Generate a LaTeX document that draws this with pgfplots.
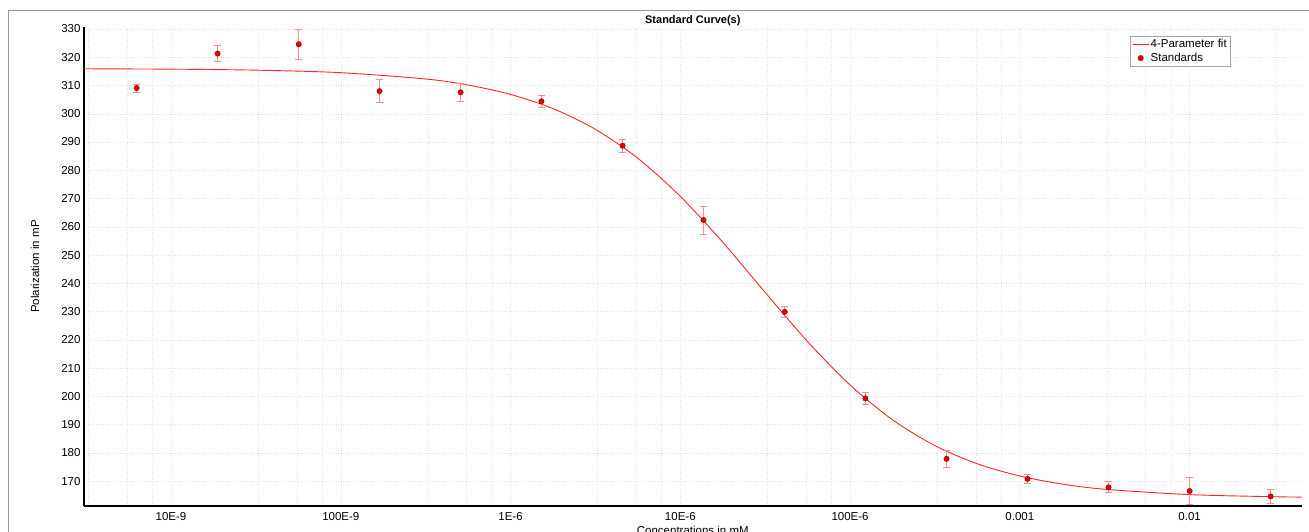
\documentclass[border=0pt]{standalone}
\usepackage{pgfplots}
\pgfplotsset{compat=1.18}
\usepackage{fontspec}
\setmainfont{Liberation Sans}

\begin{document}
\begin{tikzpicture}[x=1pt,y=1pt]
  \useasboundingbox (0,0) rectangle (1309,531);
  % outer frame of the chart panel
  \draw[gray!80, line width=0.8pt] (8,-20) -- (8,521) -- (1330,521);
  \begin{axis}[
    at={(84pt,25pt)}, anchor=south west,
    scale only axis,
    width=1217.7pt, height=479pt,
    xmode=log,
    xmin=3.07e-9, xmax=0.0457,
    ymin=161.2, ymax=330.7,
    axis x line*=bottom, axis y line*=left,
    axis line style={line width=1.3pt, -},
    major tick length=0pt, minor tick length=0pt,
    xtick={1e-8,1e-7,1e-6,1e-5,1e-4,1e-3,1e-2},
    xticklabels={10E-9,100E-9,1E-6,10E-6,100E-6,0.001,0.01},
    minor xtick={3.25e-9,5.5e-9,7.75e-9,3.25e-8,5.5e-8,7.75e-8,
      3.25e-7,5.5e-7,7.75e-7,3.25e-6,5.5e-6,7.75e-6,
      3.25e-5,5.5e-5,7.75e-5,3.25e-4,5.5e-4,7.75e-4,
      3.25e-3,5.5e-3,7.75e-3,3.25e-2},
    ytick={170,180,...,330},
    xmajorgrids=true, xminorgrids=true, ymajorgrids=true,
    major grid style={dotted, gray!22},
    minor grid style={dotted, gray!22},
    /pgf/number format/assume math mode=true,
    ticklabel style={font=\fontsize{11.5}{13}\selectfont},
    xticklabel style={yshift=-3pt},
    title={\textbf{Standard Curve(s)}},
    every axis title/.style={at={(axis description cs:0.5,1)},
      anchor=base, inner sep=0pt, yshift=4pt,
      font=\fontsize{11}{13}\selectfont},
    xlabel={Concentrations in mM},
    ylabel={Polarization in mP},
    every axis x label/.style={at={(axis description cs:0.5,0)},
      anchor=north, inner sep=0pt, yshift=-19.5pt,
      font=\fontsize{11.5}{13}\selectfont},
    every axis y label/.style={at={(axis description cs:-0.0402,0.5)},
      anchor=center, rotate=90, inner sep=0pt,
      font=\fontsize{11.5}{13}\selectfont},
    legend style={at={(axis description cs:0.859,0.981)}, anchor=north west,
      draw=gray!70, line width=0.6pt, fill=white,
      font=\fontsize{11.5}{13}\selectfont,
      inner xsep=2pt, inner ysep=1.5pt, row sep=1pt,
      nodes={inner sep=1.5pt}},
    legend cell align=left,
    legend image code/.code={
      \draw[mark repeat=2,mark phase=2,#1]
        plot coordinates {(0pt,0pt) (8pt,0pt) (16pt,0pt)};},
    clip=false,
  ]
    % 4-parameter logistic fit
    \addplot[draw=red!85, line width=0.9pt, smooth, mark=none] coordinates {
      (3.07e-9,315.92) (1e-8,315.78) (3.162e-8,315.43) (1e-7,314.54)
      (3.162e-7,312.30) (5.623e-7,310.16) (1e-6,306.84) (1.778e-6,301.83)
      (3.162e-6,294.49) (5.623e-6,284.23) (1e-5,270.77) (1.778e-5,254.53)
      (3.162e-5,236.77) (5.623e-5,219.36) (1e-4,204.02) (1.778e-4,191.71)
      (3.162e-4,182.55) (5.623e-4,176.13) (1e-3,171.80) (1.778e-3,168.96)
      (3.162e-3,167.13) (1e-2,165.23) (3.162e-2,164.48) (4.57e-2,164.36)
    };
    \addlegendentry{4-Parameter fit}

    % standards with error bars
    \addplot[only marks, mark=*, mark size=2.7pt,
      mark options={fill=red!90!black, draw=red!55!black, line width=0.4pt},
      error bars/.cd, y dir=both, y explicit,
      error bar style={red!45, line width=0.8pt},
      error mark options={rotate=90, red!45, mark size=3.5pt, line width=0.8pt},
    ] coordinates {
      (6.27e-9,309.1) +- (0,1.4)
      (1.88e-8,321.3) +- (0,2.8)
      (5.65e-8,324.6) +- (0,5.2)
      (1.69e-7,308.0) +- (0,4.1)
      (5.08e-7,307.6) +- (0,3.1)
      (1.52e-6,304.4) +- (0,2.1)
      (4.57e-6,288.7) +- (0,2.35)
      (1.37e-5,262.4) +- (0,4.95)
      (4.12e-5,229.9) +- (0,2.1)
      (1.23e-4,199.3) +- (0,2.0)
      (3.70e-4,177.9) +- (0,2.9)
      (1.11e-3,170.8) +- (0,1.6)
      (3.33e-3,167.8) +- (0,1.95)
      (1.0e-2,166.5) +- (0,4.7)
      (3.0e-2,164.6) +- (0,2.35)
    };
    \addlegendentry{Standards}
  \end{axis}
\end{tikzpicture}
\end{document}
